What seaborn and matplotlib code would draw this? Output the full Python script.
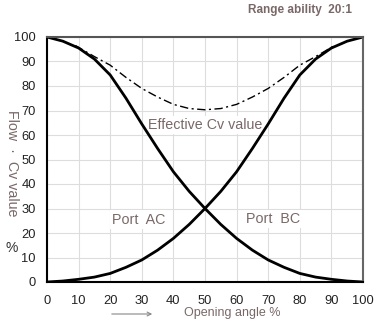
import matplotlib
matplotlib.use("Agg")
import matplotlib.pyplot as plt
import seaborn as sns
import pandas as pd

# Data
opening = [0, 5, 10, 15, 20, 25, 30, 35, 40, 45, 50, 55, 60, 65, 70, 75, 80, 85, 90, 95, 100]
port_ac = [100, 98.3, 95.5, 91, 84.5, 75, 64.5, 54.5, 45, 37, 30, 23.5, 17.8, 13, 9, 6, 3.5, 2, 1.1, 0.4, 0]
port_bc = [0, 0.4, 1.1, 2, 3.5, 6, 9, 13, 17.8, 23.5, 30, 37, 45, 54.5, 64.5, 75, 84.5, 91, 95.5, 98.3, 100]
eff_x = [9, 15, 20, 25, 30, 35, 40, 45, 50, 55, 60, 65, 70, 75, 80, 85, 91]
eff_cv = [96.5, 92, 88.5, 83.5, 79, 75.5, 72.5, 70.8, 70.3, 70.8, 72.5, 75.5, 79, 83.5, 88.5, 92, 96.5]
x_ticks = [0, 10, 20, 30, 40, 50, 60, 70, 80, 90, 100]
y_ticks = [0, 10, 20, 30, 40, 50, 60, 70, 80, 90, 100]

sns.set_theme(style="white")
plt.rcParams['font.family'] = ['Liberation Sans', 'DejaVu Sans']

txt_col = "#7a6868"

fig = plt.figure(figsize=(3.77, 3.22), dpi=100)
ax = fig.add_axes([47/377, 1-282/322, (363-47)/377, (282-37)/322])

df = pd.DataFrame({"x": opening, "ac": port_ac, "bc": port_bc})
dfe = pd.DataFrame({"x": eff_x, "cv": eff_cv})

sns.lineplot(data=df, x="x", y="ac", ax=ax, color="black", linewidth=2.0, zorder=3)
sns.lineplot(data=df, x="x", y="bc", ax=ax, color="black", linewidth=2.0, zorder=3)
sns.lineplot(data=dfe, x="x", y="cv", ax=ax, color="black", linewidth=1.0,
             linestyle=(0, (6, 2.5, 1.5, 2.5)), zorder=3)

ax.set_xlim(0, 100)
ax.set_ylim(0, 100)
ax.set_xticks(x_ticks)
ax.set_yticks(y_ticks)
ax.set_xticklabels([str(v) for v in x_ticks], fontsize=9.3)
ax.set_yticklabels([str(v) for v in y_ticks], fontsize=9.3)
ax.tick_params(axis='both', length=0, colors="#222222")
ax.tick_params(axis='y', pad=8)
ax.tick_params(axis='x', pad=9)
ax.grid(True, color="#dddddd", linewidth=0.8, zorder=0)
ax.set_axisbelow(True)
ax.set_xlabel("")
ax.set_ylabel("")

for side in ["left", "bottom"]:
    ax.spines[side].set_color("black")
    ax.spines[side].set_linewidth(1.5)
ax.spines["top"].set_color("#555555")
ax.spines["top"].set_linewidth(1.5)
ax.spines["right"].set_color("#666666")
ax.spines["right"].set_linewidth(1.5)
for s in ax.spines.values():
    s.set_visible(True)
    s.set_zorder(4)

box = dict(facecolor="white", edgecolor="none", pad=1.5)
ax.text(50, 64, "Effective Cv value", ha="center", va="center", fontsize=10.3,
        color=txt_col, bbox=box, zorder=2)
ax.text(29, 25.5, "Port  AC", ha="center", va="center", fontsize=10.3,
        color=txt_col, bbox=box, zorder=2)
ax.text(71.4, 25.7, "Port  BC", ha="center", va="center", fontsize=10.3,
        color=txt_col, bbox=box, zorder=2)

fig.text(300/377, 1-10/322, "Range ability  20:1", ha="center", va="center",
         fontsize=8.5, color=txt_col, fontweight="bold")
fig.text(12/377, 1-163/322, "Flow  ·  Cv value", ha="center", va="center",
         fontsize=10.3, color=txt_col, rotation=-90)
fig.text(12/377, 1-248/322, "%", ha="center", va="center", fontsize=10, color="#333333")
fig.text(232/377, 1-313/322, "Opening angle %", ha="center", va="center",
         fontsize=9, color=txt_col)
fig.patches.append(matplotlib.patches.FancyArrowPatch(
    (109/377, 1-314/322), (155/377, 1-314/322), transform=fig.transFigure,
    arrowstyle="->", mutation_scale=7, color="#888888", linewidth=0.8))

fig.savefig("out.png", dpi=100)
